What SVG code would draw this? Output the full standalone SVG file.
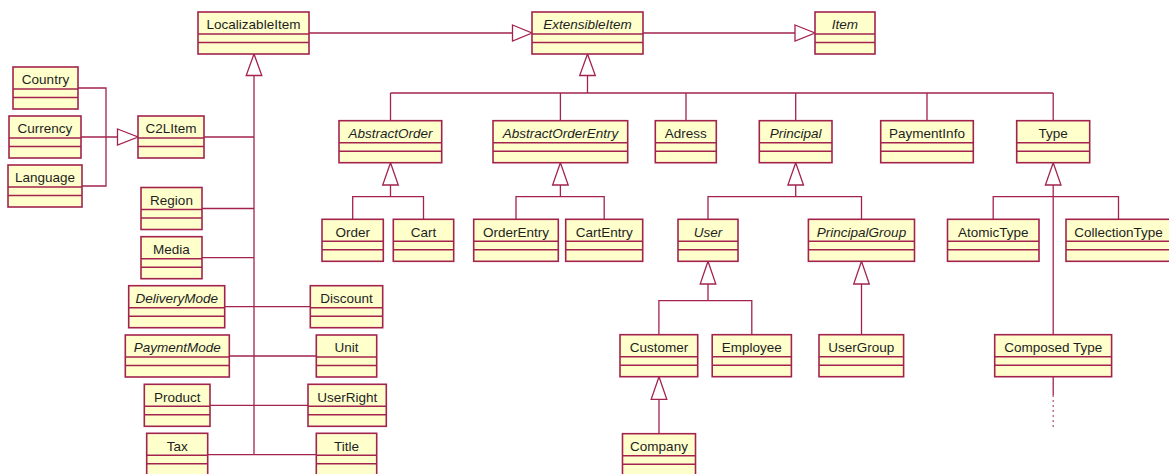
<svg xmlns="http://www.w3.org/2000/svg" width="1169" height="474" viewBox="0 0 1169 474">
  <style>
    .cls rect { fill: #FFFFCC; stroke: #A3234F; stroke-width: 1.6; }
    .cls line { stroke: #A3234F; stroke-width: 1.6; }
    .cls text { font-family: "Liberation Sans", Arial, sans-serif; font-size: 13.5px; fill: #1e1e1e; text-anchor: middle; }
    .cls text.abs { font-style: italic; }
    .conn path { fill: none; stroke: #A3234F; stroke-width: 1.3; }
    .conn polygon { fill: #FFFFFF; stroke: #A3234F; stroke-width: 1.3; stroke-linejoin: miter; }
    .conn .dots { stroke-dasharray: 2 3; opacity: 0.75; }
  </style>

  <!-- connectors -->
  <g id="connectors" class="conn">
    <!-- LocalizableItem -> ExtensibleItem -> Item -->
    <path d="M309,33 H512.5"/>
    <polygon points="512.5,25 532,33 512.5,41"/>
    <path d="M643,33 H795"/>
    <polygon points="795,25 815,33 795,41"/>

    <!-- LocalizableItem subclasses -->
    <polygon points="254,54 246.2,75.5 261.8,75.5"/>
    <path d="M254,75.5 V454.7"/>
    <path d="M204,137 H254"/>
    <path d="M202,208.5 H254"/>
    <path d="M202,257.7 H254"/>
    <path d="M224.7,306.7 H310.3"/>
    <path d="M229.3,356 H316.3"/>
    <path d="M210,405.3 H308"/>
    <path d="M207.7,454.7 H316.3"/>

    <!-- C2LItem subclasses -->
    <path d="M78,88 H106 V186 H82"/>
    <path d="M81,137 H117.5"/>
    <polygon points="117.5,129 138,137 117.5,145"/>

    <!-- ExtensibleItem subclasses -->
    <polygon points="587.5,54 579.7,75.5 595.3,75.5"/>
    <path d="M587.5,75.5 V93"/>
    <path d="M390.5,93 H1053.2"/>
    <path d="M390.5,93 V120.7 M560.4,93 V120.7 M686,93 V120.7 M795.7,93 V120.7 M927,93 V120.7 M1053.2,93 V120.7"/>

    <!-- AbstractOrder -->
    <polygon points="390.5,162.7 382.7,185 398.3,185"/>
    <path d="M390.5,185 V196.7 M352.7,219.3 V196.7 H423.5 V219.3"/>

    <!-- AbstractOrderEntry -->
    <polygon points="560.4,162.7 552.6,185 568.2,185"/>
    <path d="M560.4,185 V196.7 M516,219.3 V196.7 H604.2 V219.3"/>

    <!-- Principal -->
    <polygon points="795.7,162.7 787.9,185 803.5,185"/>
    <path d="M795.7,185 V196.7 M708,219.3 V196.7 H861.5 V219.3"/>

    <!-- Type -->
    <polygon points="1053.2,162.7 1045.4,185 1061,185"/>
    <path d="M1053.2,185 V334.7"/>
    <path d="M993.2,219.3 V196.7 H1118.5 V219.3"/>

    <!-- User -->
    <polygon points="708,261.3 700.2,284 715.8,284"/>
    <path d="M708,284 V300.7 M658.9,334.7 V300.7 H751.8 V334.7"/>

    <!-- PrincipalGroup -->
    <polygon points="861.5,261.3 853.7,284 869.3,284"/>
    <path d="M861.5,284 V334.7"/>

    <!-- Customer -->
    <polygon points="659,376.7 651.2,399.3 666.8,399.3"/>
    <path d="M659,399.3 V433.7"/>

    <!-- Composed Type continuation -->
    <path d="M1053.2,376.7 V395"/>
    <path class="dots" d="M1053.2,395 V427"/>
  </g>

  <!-- classes -->
  <g id="LocalizableItem" class="cls"><rect x="198" y="12" width="111" height="42"/><line x1="198" y1="34" x2="309" y2="34"/><line x1="198" y1="42.5" x2="309" y2="42.5"/><text x="253.5" y="29.3">LocalizableItem</text></g>
  <g id="ExtensibleItem" class="cls"><rect x="532" y="12" width="111" height="42"/><line x1="532" y1="34" x2="643" y2="34"/><line x1="532" y1="42.5" x2="643" y2="42.5"/><text class="abs" x="587.5" y="29.3">ExtensibleItem</text></g>
  <g id="Item" class="cls"><rect x="815" y="12" width="60" height="42"/><line x1="815" y1="34" x2="875" y2="34"/><line x1="815" y1="42.5" x2="875" y2="42.5"/><text class="abs" x="845" y="29.3">Item</text></g>

  <g id="Country" class="cls"><rect x="13" y="67" width="65" height="42"/><line x1="13" y1="89" x2="78" y2="89"/><line x1="13" y1="97.5" x2="78" y2="97.5"/><text x="45.5" y="84.3">Country</text></g>
  <g id="Currency" class="cls"><rect x="9" y="116" width="72" height="42"/><line x1="9" y1="138" x2="81" y2="138"/><line x1="9" y1="146.5" x2="81" y2="146.5"/><text x="45" y="133.3">Currency</text></g>
  <g id="Language" class="cls"><rect x="8" y="165" width="74" height="42"/><line x1="8" y1="187" x2="82" y2="187"/><line x1="8" y1="195.5" x2="82" y2="195.5"/><text x="45" y="182.3">Language</text></g>
  <g id="C2LItem" class="cls"><rect x="138" y="116" width="66" height="42"/><line x1="138" y1="138" x2="204" y2="138"/><line x1="138" y1="146.5" x2="204" y2="146.5"/><text x="171" y="133.3">C2LItem</text></g>
  <g id="Region" class="cls"><rect x="141" y="187.5" width="61" height="42"/><line x1="141" y1="209.5" x2="202" y2="209.5"/><line x1="141" y1="218" x2="202" y2="218"/><text x="171.5" y="204.8">Region</text></g>
  <g id="Media" class="cls"><rect x="141" y="236.7" width="61" height="42"/><line x1="141" y1="258.7" x2="202" y2="258.7"/><line x1="141" y1="267.2" x2="202" y2="267.2"/><text x="171.5" y="254">Media</text></g>
  <g id="DeliveryMode" class="cls"><rect x="128.7" y="285.7" width="96" height="42"/><line x1="128.7" y1="307.7" x2="224.7" y2="307.7"/><line x1="128.7" y1="316.2" x2="224.7" y2="316.2"/><text class="abs" x="176.7" y="303">DeliveryMode</text></g>
  <g id="Discount" class="cls"><rect x="310.3" y="285.7" width="72.4" height="42"/><line x1="310.3" y1="307.7" x2="382.7" y2="307.7"/><line x1="310.3" y1="316.2" x2="382.7" y2="316.2"/><text x="346.5" y="303">Discount</text></g>
  <g id="PaymentMode" class="cls"><rect x="125.3" y="335" width="104" height="42"/><line x1="125.3" y1="357" x2="229.3" y2="357"/><line x1="125.3" y1="365.5" x2="229.3" y2="365.5"/><text class="abs" x="177.3" y="352.3">PaymentMode</text></g>
  <g id="Unit" class="cls"><rect x="316.3" y="335" width="60.4" height="42"/><line x1="316.3" y1="357" x2="376.7" y2="357"/><line x1="316.3" y1="365.5" x2="376.7" y2="365.5"/><text x="346.5" y="352.3">Unit</text></g>
  <g id="Product" class="cls"><rect x="144.3" y="384.3" width="65.7" height="42"/><line x1="144.3" y1="406.3" x2="210" y2="406.3"/><line x1="144.3" y1="414.8" x2="210" y2="414.8"/><text x="177.2" y="401.6">Product</text></g>
  <g id="UserRight" class="cls"><rect x="308" y="384.3" width="78.3" height="42"/><line x1="308" y1="406.3" x2="386.3" y2="406.3"/><line x1="308" y1="414.8" x2="386.3" y2="414.8"/><text x="347.2" y="401.6">UserRight</text></g>
  <g id="Tax" class="cls"><rect x="146.7" y="433.3" width="61" height="42"/><line x1="146.7" y1="455.3" x2="207.7" y2="455.3"/><line x1="146.7" y1="463.8" x2="207.7" y2="463.8"/><text x="177.2" y="450.6">Tax</text></g>
  <g id="Title" class="cls"><rect x="316.3" y="433.3" width="60.4" height="42"/><line x1="316.3" y1="455.3" x2="376.7" y2="455.3"/><line x1="316.3" y1="463.8" x2="376.7" y2="463.8"/><text x="346.5" y="450.6">Title</text></g>

  <g id="AbstractOrder" class="cls"><rect x="339" y="120.7" width="102.7" height="42"/><line x1="339" y1="142.7" x2="441.7" y2="142.7"/><line x1="339" y1="151.2" x2="441.7" y2="151.2"/><text class="abs" x="390.4" y="138">AbstractOrder</text></g>
  <g id="AbstractOrderEntry" class="cls"><rect x="493" y="120.7" width="134.7" height="42"/><line x1="493" y1="142.7" x2="627.7" y2="142.7"/><line x1="493" y1="151.2" x2="627.7" y2="151.2"/><text class="abs" x="560.4" y="138">AbstractOrderEntry</text></g>
  <g id="Adress" class="cls"><rect x="655.3" y="120.7" width="61" height="42"/><line x1="655.3" y1="142.7" x2="716.3" y2="142.7"/><line x1="655.3" y1="151.2" x2="716.3" y2="151.2"/><text x="685.8" y="138">Adress</text></g>
  <g id="Principal" class="cls"><rect x="759.3" y="120.7" width="72.7" height="42"/><line x1="759.3" y1="142.7" x2="832" y2="142.7"/><line x1="759.3" y1="151.2" x2="832" y2="151.2"/><text class="abs" x="795.7" y="138">Principal</text></g>
  <g id="PaymentInfo" class="cls"><rect x="880.7" y="120.7" width="92.6" height="42"/><line x1="880.7" y1="142.7" x2="973.3" y2="142.7"/><line x1="880.7" y1="151.2" x2="973.3" y2="151.2"/><text x="927" y="138">PaymentInfo</text></g>
  <g id="Type" class="cls"><rect x="1016.7" y="120.7" width="73" height="42"/><line x1="1016.7" y1="142.7" x2="1089.7" y2="142.7"/><line x1="1016.7" y1="151.2" x2="1089.7" y2="151.2"/><text x="1053.2" y="138">Type</text></g>

  <g id="Order" class="cls"><rect x="322" y="219.3" width="61.3" height="42"/><line x1="322" y1="241.3" x2="383.3" y2="241.3"/><line x1="322" y1="249.8" x2="383.3" y2="249.8"/><text x="352.7" y="236.6">Order</text></g>
  <g id="Cart" class="cls"><rect x="393.3" y="219.3" width="60.4" height="42"/><line x1="393.3" y1="241.3" x2="453.7" y2="241.3"/><line x1="393.3" y1="249.8" x2="453.7" y2="249.8"/><text x="423.5" y="236.6">Cart</text></g>
  <g id="OrderEntry" class="cls"><rect x="473.7" y="219.3" width="84.6" height="42"/><line x1="473.7" y1="241.3" x2="558.3" y2="241.3"/><line x1="473.7" y1="249.8" x2="558.3" y2="249.8"/><text x="516" y="236.6">OrderEntry</text></g>
  <g id="CartEntry" class="cls"><rect x="565.7" y="219.3" width="77" height="42"/><line x1="565.7" y1="241.3" x2="642.7" y2="241.3"/><line x1="565.7" y1="249.8" x2="642.7" y2="249.8"/><text x="604.2" y="236.6">CartEntry</text></g>
  <g id="User" class="cls"><rect x="678" y="219.3" width="60" height="42"/><line x1="678" y1="241.3" x2="738" y2="241.3"/><line x1="678" y1="249.8" x2="738" y2="249.8"/><text class="abs" x="708" y="236.6">User</text></g>
  <g id="PrincipalGroup" class="cls"><rect x="808.4" y="219.3" width="106.1" height="42"/><line x1="808.4" y1="241.3" x2="914.5" y2="241.3"/><line x1="808.4" y1="249.8" x2="914.5" y2="249.8"/><text class="abs" x="861.5" y="236.6">PrincipalGroup</text></g>
  <g id="AtomicType" class="cls"><rect x="947.5" y="219.3" width="91.5" height="42"/><line x1="947.5" y1="241.3" x2="1039" y2="241.3"/><line x1="947.5" y1="249.8" x2="1039" y2="249.8"/><text x="993.2" y="236.6">AtomicType</text></g>
  <g id="CollectionType" class="cls"><rect x="1066" y="219.3" width="105" height="42"/><line x1="1066" y1="241.3" x2="1171" y2="241.3"/><line x1="1066" y1="249.8" x2="1171" y2="249.8"/><text x="1118.5" y="236.6">CollectionType</text></g>

  <g id="Customer" class="cls"><rect x="620" y="334.7" width="77.7" height="42"/><line x1="620" y1="356.7" x2="697.7" y2="356.7"/><line x1="620" y1="365.2" x2="697.7" y2="365.2"/><text x="658.9" y="352">Customer</text></g>
  <g id="Employee" class="cls"><rect x="712.2" y="334.7" width="79.2" height="42"/><line x1="712.2" y1="356.7" x2="791.4" y2="356.7"/><line x1="712.2" y1="365.2" x2="791.4" y2="365.2"/><text x="751.8" y="352">Employee</text></g>
  <g id="UserGroup" class="cls"><rect x="819" y="334.7" width="84.6" height="42"/><line x1="819" y1="356.7" x2="903.6" y2="356.7"/><line x1="819" y1="365.2" x2="903.6" y2="365.2"/><text x="861.3" y="352">UserGroup</text></g>
  <g id="ComposedType" class="cls"><rect x="994.7" y="334.7" width="116.9" height="42"/><line x1="994.7" y1="356.7" x2="1111.6" y2="356.7"/><line x1="994.7" y1="365.2" x2="1111.6" y2="365.2"/><text x="1053.2" y="352">Composed Type</text></g>
  <g id="Company" class="cls"><rect x="622.5" y="433.7" width="73" height="42"/><line x1="622.5" y1="455.7" x2="695.5" y2="455.7"/><line x1="622.5" y1="464.2" x2="695.5" y2="464.2"/><text x="659" y="451">Company</text></g>
</svg>
